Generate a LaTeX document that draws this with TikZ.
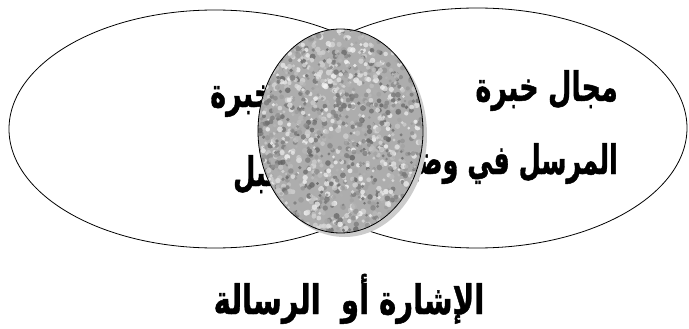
\documentclass[tikz,border=0pt]{standalone}
\usepackage{fontspec}
\TeXXeTstate=1
\newfontfamily\arabicfont[Script=Arabic, BoldFeatures={FakeBold=1.2}]{DejaVu Sans}
\usetikzlibrary{shapes.geometric}
\tikzset{
  outline/.style={draw=black, line width=0.8pt},
  artext/.style={font=\arabicfont\bfseries\fontsize{30}{36}\selectfont, inner sep=0pt},
}
\begin{document}
\begin{tikzpicture}[x=1pt,y=-1pt]
\useasboundingbox[fill=white] (0,0) rectangle (689,329);
% outer ellipses
\draw[outline] (215,129) ellipse [x radius=206, y radius=119];
\draw[outline] (477,128) ellipse [x radius=210, y radius=120];
% texts
\node[artext, anchor=base east] (r1) at (618,101) {\scalebox{0.9}[1.35]{\beginR مجال خبرة\endR}};
\node[artext, anchor=base east] (r2) at (618,174) {\scalebox{0.85}[1.35]{\beginR المرسل في وضع\endR}};
\node[artext, anchor=base west] (l1) at (210,107) {\scalebox{0.9}[1.35]{\beginR مجال خبرة\endR}};
\node[artext, anchor=base west] (l2) at (233,186) {\scalebox{0.85}[1.35]{\beginR المستقبل\endR}};
% shadow
\fill[black!20] (344.5,135) ellipse [x radius=82.5, y radius=102];
% textured ellipse
\begin{scope}
\clip (340.5,131) ellipse [x radius=82.5, y radius=102];
\fill[black!32] (258,29) rectangle (423,233);
\pgfmathsetseed{11}
\foreach \i in {1,...,1700}{
  \pgfmathsetmacro\px{256+170*rnd}
  \pgfmathsetmacro\py{27+208*rnd}
  \pgfmathsetmacro\sh{int(4+58*rnd)}
  \pgfmathsetmacro\rr{1.4+1.6*rnd}
  \fill[black!\sh, opacity=0.8] (\px,\py) circle (\rr);
}
\end{scope}
\draw[outline] (340.5,131) ellipse [x radius=82.5, y radius=102];
% bottom label
\node[artext, anchor=base] (sig) at (349,314) {\scalebox{0.97}[1.35]{\beginR الإشارة أو\ \ الرسالة\endR}};
\end{tikzpicture}
\end{document}
